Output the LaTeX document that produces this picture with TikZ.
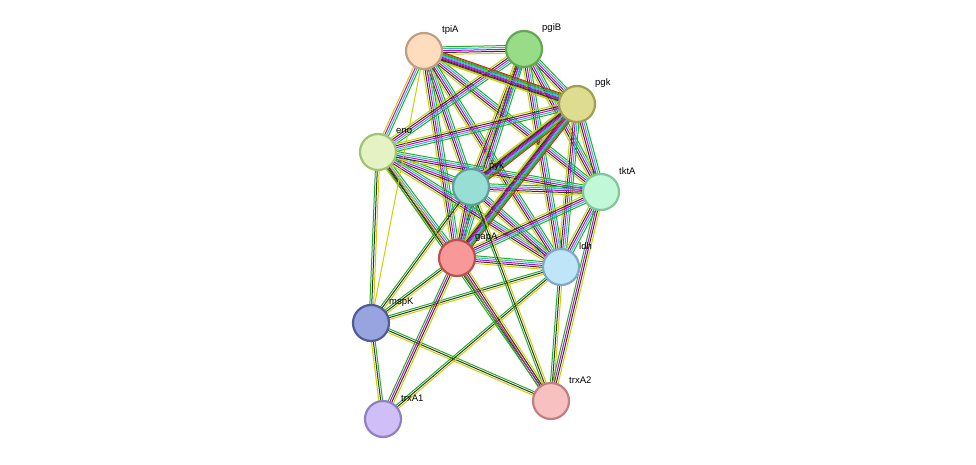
\documentclass[tikz,border=0pt]{standalone}
\usepackage{fontspec}
\setmainfont{Liberation Sans}
\usetikzlibrary{calc}
\definecolor{sY}{HTML}{C8D000}
\definecolor{sK}{HTML}{333333}
\definecolor{sM}{HTML}{D000D0}
\definecolor{sC}{HTML}{30B8D8}
\definecolor{sG}{HTML}{20B020}
\definecolor{sR}{HTML}{E02020}
\tikzset{
  prot/.style={circle,minimum size=36pt,inner sep=0pt,line width=2.2pt},
  lab/.style={font=\fontsize{9.5}{11}\selectfont,anchor=west,inner sep=0pt},
  eline/.style={line width=1pt}
}
\newcommand\edgeb[4]{%
  \foreach[count=\i] \c in {#4}{%
    \pgfmathsetmacro\off{(\i-(#3+1)/2)*1.9}
    \draw[eline,\c] ($(#1)!\off pt!90:(#2)$) -- ($(#2)!\off pt!-90:(#1)$);
  }}
\begin{document}
\begin{tikzpicture}[x=1pt,y=-1pt]
\useasboundingbox (0,0) rectangle (976,465);
\coordinate (tpiA) at (424,51);
\coordinate (pgiB) at (524,49);
\coordinate (pgk) at (577,104);
\coordinate (eno) at (378,152);
\coordinate (pyk) at (471,187);
\coordinate (tktA) at (601,192);
\coordinate (gapA) at (457,258);
\coordinate (ldh) at (561,267);
\coordinate (mspK) at (371,323);
\coordinate (trxA1) at (383,419);
\coordinate (trxA2) at (551,401);
% core mesh
\foreach \a/\b in {tpiA/pgiB,tpiA/pgk,tpiA/pyk,tpiA/tktA,tpiA/gapA,tpiA/ldh,
  pgiB/pgk,pgiB/eno,pgiB/pyk,pgiB/tktA,pgiB/gapA,pgiB/ldh,
  pgk/eno,pgk/pyk,pgk/tktA,pgk/gapA,pgk/ldh,
  eno/pyk,eno/tktA,eno/gapA,eno/ldh,
  pyk/tktA,pyk/gapA,pyk/ldh,
  tktA/gapA,tktA/ldh,gapA/ldh}{\edgeb{\a}{\b}{5}{sY,sK,sM,sC,sG}}
\edgeb{tpiA}{eno}{4}{sY,sM,sC,sG}
\edgeb{pgk}{gapA}{6}{sY,sK,sM,sC,sG,sR}
\edgeb{pgk}{pyk}{6}{sY,sK,sM,sC,sG,sR}
\edgeb{tpiA}{pgk}{6}{sY,sK,sM,sC,sG,sR}
% peripheral
\foreach \a/\b in {mspK/eno,mspK/gapA,mspK/pyk,mspK/ldh,mspK/trxA1,mspK/trxA2,
  trxA1/ldh,trxA2/pyk,trxA2/eno,trxA2/ldh}{\edgeb{\a}{\b}{3}{sY,sK,sG}}
\edgeb{mspK}{tpiA}{1}{sY}
\edgeb{trxA2}{gapA}{4}{sY,sK,sM,sG}
\edgeb{trxA2}{tktA}{4}{sY,sK,sM,sG}
\edgeb{trxA1}{gapA}{4}{sY,sK,sM,sG}
% nodes
\node[prot,fill={rgb,255:red,253;green,221;blue,190},draw={rgb,255:red,190;green,160;blue,128}] (n1) at (tpiA) {};
\node[prot,fill={rgb,255:red,152;green,220;blue,136},draw={rgb,255:red,100;green,168;blue,85}] (n2) at (pgiB) {};
\node[prot,fill={rgb,255:red,222;green,220;blue,142},draw={rgb,255:red,160;green,158;blue,80}] (n3) at (pgk) {};
\node[prot,fill={rgb,255:red,228;green,242;blue,196},draw={rgb,255:red,160;green,196;blue,112}] (n4) at (eno) {};
\node[prot,fill={rgb,255:red,152;green,222;blue,212},draw={rgb,255:red,94;green,160;blue,152}] (n5) at (pyk) {};
\node[prot,fill={rgb,255:red,192;green,248;blue,216},draw={rgb,255:red,128;green,200;blue,152}] (n6) at (tktA) {};
\node[prot,fill={rgb,255:red,248;green,152;blue,152},draw={rgb,255:red,192;green,80;blue,80}] (n7) at (gapA) {};
\node[prot,fill={rgb,255:red,190;green,230;blue,248},draw={rgb,255:red,128;green,168;blue,200}] (n8) at (ldh) {};
\node[prot,fill={rgb,255:red,152;green,164;blue,224},draw={rgb,255:red,80;green,92;blue,152}] (n9) at (mspK) {};
\node[prot,fill={rgb,255:red,208;green,190;blue,248},draw={rgb,255:red,144;green,128;blue,192}] (n10) at (trxA1) {};
\node[prot,fill={rgb,255:red,248;green,192;blue,192},draw={rgb,255:red,192;green,128;blue,128}] (n11) at (trxA2) {};
\foreach \p in {tpiA,pgiB,pgk,eno,pyk,tktA,gapA,ldh,mspK,trxA1,trxA2}
  \node[lab] at ($(\p)+(18,-21)$) {\p};
\end{tikzpicture}
\end{document}
